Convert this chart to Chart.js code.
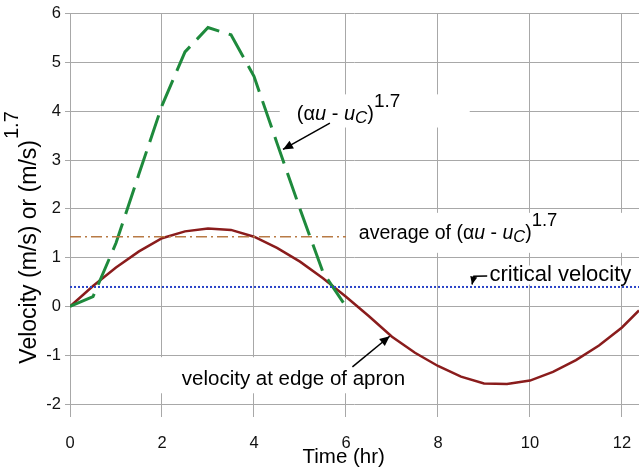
<!DOCTYPE html>
<html><head><meta charset="utf-8">
<script src="https://cdn.jsdelivr.net/npm/chart.js@4.4.1/dist/chart.umd.min.js"></script>
<style>html,body{margin:0;padding:0;background:#fff;}#wrap{width:639px;height:469px;position:relative;}</style>
</head><body><div id="wrap"><canvas id="c"></canvas></div>
<script>
// ---- data ----
const edgeTimes = [0,0.5,1,1.5,2,2.5,3,3.5,4,4.5,5,5.5,6,6.5,7,7.5,8,8.5,9,9.5,10,10.5,11,11.5,12,12.37];
const edgeVelocity = [0,0.42,0.8,1.13,1.4,1.54,1.6,1.57,1.43,1.2,0.92,0.58,0.2,-0.2,-0.62,-0.95,-1.22,-1.44,-1.58,-1.59,-1.52,-1.34,-1.1,-0.8,-0.43,-0.08];
const excessTimes = [0,0.5,1,1.5,2,2.5,3,3.5,4,4.5,5,5.5,6];
const excessPower = [0,0.2,1.3,2.72,4.12,5.22,5.72,5.57,4.72,3.35,2.0,0.7,0];
const averageTimes = [0,6];
const averageExcess = [1.43,1.43];
const criticalTimes = [0,12.37];
const criticalVelocity = [0.4,0.4];
const xTickValues = [0,2,4,6,8,10,12];
const yTickValues = [-2,-1,0,1,2,3,4,5,6];
const xLabel = 'Time (hr)';
const yLabel = 'Velocity (m/s) or (m/s)';
const yLabelSup = '1.7';

const FF = '"Liberation Sans", Arial, Helvetica, sans-serif';
const pts = (xs, ys) => xs.map((x,i)=>({x, y: ys[i]}));

function drawRich(ctx, x, y, parts){
  let cx = x;
  for(const p of parts){
    ctx.font = p.f;
    ctx.fillText(p.t, cx, y + (p.dy||0));
    cx += ctx.measureText(p.t).width;
  }
}
function arrow(ctx, path, size){
  ctx.beginPath();
  ctx.moveTo(path[0][0], path[0][1]);
  for(let i=1;i<path.length;i++) ctx.lineTo(path[i][0], path[i][1]);
  ctx.stroke();
  const [x2,y2] = path[path.length-1];
  const [x1,y1] = path[path.length-2];
  const a = Math.atan2(y2-y1, x2-x1);
  ctx.beginPath();
  ctx.moveTo(x2,y2);
  ctx.lineTo(x2 - size*Math.cos(a) + size*0.45*Math.sin(a), y2 - size*Math.sin(a) - size*0.45*Math.cos(a));
  ctx.lineTo(x2 - size*Math.cos(a) - size*0.45*Math.sin(a), y2 - size*Math.sin(a) + size*0.45*Math.cos(a));
  ctx.closePath();
  ctx.fill();
}
function alphaParts(size){
  const n = size+'px '+FF, it = 'italic '+size+'px '+FF;
  return [
    {t:'(', f:n},{t:'\u03B1', f:n},{t:'u', f:it},{t:' - ', f:n},{t:'u', f:it},
    {t:'C', f:'italic '+(size-3)+'px '+FF, dy:3},{t:')', f:n},{t:'1.7', f:(size-1)+'px '+FF, dy:-13}
  ];
}

const annot = {
  id:'annot',
  beforeDatasetsDraw(chart){
    const {ctx, scales:{x:sx, y:sy}} = chart;
    const X = v=>sx.getPixelForValue(v), Y = v=>sy.getPixelForValue(v);
    ctx.save();
    ctx.fillStyle = '#fff';
    const box = (x0,x1,y0,y1)=>ctx.fillRect(X(x0), Y(y0), X(x1)-X(x0), Y(y1)-Y(y0));
    box(4.56, 8.69, 4.35, 3.67);
    box(6.13, 12.37, 1.92, 1.10);
    box(9.04, 12.37, 0.84, 0.45);
    box(1.85, 7.5, -1.04, -1.78);
    ctx.restore();
  },
  afterDatasetsDraw(chart){
    const {ctx, scales:{x:sx, y:sy}, chartArea:a} = chart;
    const X = v=>sx.getPixelForValue(v), Y = v=>sy.getPixelForValue(v);
    ctx.save();
    ctx.fillStyle = '#000'; ctx.strokeStyle = '#000'; ctx.lineWidth = 1.5;
    ctx.textBaseline = 'alphabetic'; ctx.textAlign = 'left';
    drawRich(ctx, X(4.93), Y(3.82), alphaParts(20));
    arrow(ctx, [[X(5.65),Y(3.76)],[X(4.63),Y(3.22)]], 10);
    drawRich(ctx, X(6.28), Y(1.39), [{t:'average of ', f:'19.5px '+FF}].concat(alphaParts(19.5)));
    ctx.font = '22px '+FF;
    ctx.fillText('critical velocity', X(9.12), Y(0.53));
    arrow(ctx, [[X(9.07),Y(0.625)],[X(8.78),Y(0.62)],[X(8.74),Y(0.45)]], 8);
    ctx.font = '20.5px '+FF;
    ctx.fillText('velocity at edge of apron', X(2.43), Y(-1.61));
    arrow(ctx, [[X(6.14),Y(-1.24)],[X(6.95),Y(-0.61)]], 10);
    ctx.font = '20.5px '+FF; ctx.textAlign = 'center';
    ctx.fillText(xLabel, X(5.95), Y(-3.2));
    ctx.translate(a.left - 34, Y(1.12));
    ctx.rotate(-Math.PI/2);
    ctx.font = '23px '+FF; ctx.textAlign = 'left';
    const w = ctx.measureText(yLabel).width;
    ctx.fillText(yLabel, -w/2, 0);
    ctx.font = '20px '+FF;
    ctx.fillText(yLabelSup, w/2 + 1, -18);
    ctx.restore();
  }
};

new Chart(document.getElementById('c'), {
  type:'line',
  data:{datasets:[
    {label:'critical velocity', data:pts(criticalTimes, criticalVelocity), borderColor:'#2a44c8', borderWidth:2, borderDash:[2,2], pointRadius:0},
    {label:'average', data:pts(averageTimes, averageExcess), borderColor:'#b87a45', borderWidth:1.5, borderDash:[11,4,2,4], pointRadius:0},
    {label:'excess', data:pts(excessTimes, excessPower), borderColor:'#1e8a3c', borderWidth:3, borderDash:[28,10], pointRadius:0},
    {label:'velocity at edge of apron', data:pts(edgeTimes, edgeVelocity), borderColor:'#8a1c1c', borderWidth:2.5, pointRadius:0}
  ]},
  options:{
    responsive:true, maintainAspectRatio:false, animation:false,
    layout:{padding:{top:12,left:0,right:0,bottom:0}},
    plugins:{legend:{display:false}, tooltip:{enabled:false}},
    elements:{line:{tension:0}},
    scales:{
      x:{type:'linear', min:0, max:12.37,
        afterBuildTicks:s=>{s.ticks = xTickValues.map(v=>({value:v}));},
        afterFit:s=>{s.height = 65; s.paddingLeft = 0; s.paddingRight = 0;},
        grid:{color:'#a8a8a8', lineWidth:1, tickLength:13, drawTicks:true},
        border:{display:false},
        ticks:{font:{family:FF,size:16.5}, color:'#111', padding:17, maxRotation:0, autoSkip:false}
      },
      y:{min:-2, max:6,
        afterBuildTicks:s=>{s.ticks = yTickValues.map(v=>({value:v}));},
        afterFit:s=>{s.width = 70;},
        grid:{color:'#a8a8a8', lineWidth:1, tickLength:5},
        border:{display:false},
        ticks:{font:{family:FF,size:16.5}, color:'#111', padding:4}
      }
    }
  },
  plugins:[annot]
});
</script></body></html>
